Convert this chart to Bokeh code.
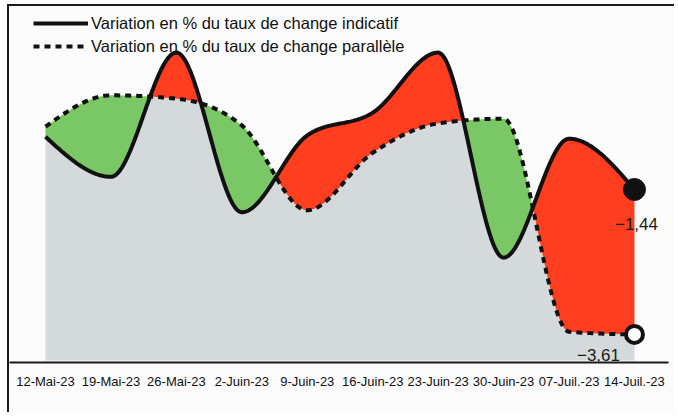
import numpy as np
from bokeh.plotting import figure
from bokeh.models import (ColumnDataSource, FixedTicker, Legend, LegendItem,
                          Label, Range1d)
from bokeh.embed import file_html
from bokeh.resources import INLINE

# ---- data -------------------------------------------------------------
dates = ["12-Mai-23", "19-Mai-23", "26-Mai-23", "2-Juin-23", "9-Juin-23",
         "16-Juin-23", "23-Juin-23", "30-Juin-23", "07-Juil.-23", "14-Juil.-23"]
indicatif = [-0.65, -1.25, 0.61, -1.78, -0.63, -0.29, 0.61, -2.46, -0.68, -1.44]
parallele = [-0.50, -0.03, -0.08, -0.48, -1.75, -0.89, -0.45, -0.38, -3.57, -3.61]
label_solid = "Variation en % du taux de change indicatif"
label_dash = "Variation en % du taux de change parallèle"
baseline = -4.0

FONT = "Liberation Sans"
RED = "#ff3d1f"
GREEN = "#79c865"
GREY = "#d4dadb"
BG = "#fbfbfb"


def monotone(xs, ys, n=60):
    """Monotone cubic (d3 curveMonotoneX style) rendering of a smoothed line."""
    xs = np.asarray(xs, float)
    ys = np.asarray(ys, float)
    h = np.diff(xs)
    s = np.diff(ys) / h
    m = np.zeros(len(xs))
    for i in range(1, len(xs) - 1):
        s0, s1, h0, h1 = s[i - 1], s[i], h[i - 1], h[i]
        p = (s0 * h1 + s1 * h0) / (h0 + h1)
        m[i] = (np.sign(s0) + np.sign(s1)) * min(abs(s0), abs(s1), 0.5 * abs(p))
    m[0] = (3 * s[0] - m[1]) / 2
    m[-1] = (3 * s[-1] - m[-2]) / 2
    ox, oy = [], []
    for i in range(len(xs) - 1):
        t = np.linspace(0, 1, n, endpoint=(i == len(xs) - 2))
        h00 = 2 * t**3 - 3 * t**2 + 1
        h10 = t**3 - 2 * t**2 + t
        h01 = -2 * t**3 + 3 * t**2
        h11 = t**3 - t**2
        ox.append(xs[i] + t * h[i])
        oy.append(h00 * ys[i] + h10 * h[i] * m[i] + h01 * ys[i + 1] + h11 * h[i] * m[i + 1])
    return np.concatenate(ox), np.concatenate(oy)


idx = list(range(len(dates)))
sx, sy = monotone(idx, indicatif)
_, dy = monotone(idx, parallele)
src = ColumnDataSource(dict(x=sx, s=sy, d=dy,
                            hi=np.maximum(sy, dy), lo=np.minimum(sy, dy),
                            base=np.full(len(sx), baseline)))

p = figure(width=667, height=408, output_backend="svg", toolbar_location=None,
           x_range=Range1d(-0.550, 9.520), y_range=Range1d(-4.03, 1.30),
           y_axis_location=None, min_border_left=0, min_border_right=8,
           min_border_top=0, min_border_bottom=52)
p.background_fill_color = BG
p.border_fill_color = BG
p.outline_line_color = None
p.grid.visible = False
p.styles = {"margin-left": "7px", "margin-top": "4px",
            "border-left": "2px solid #1a1a1a", "border-top": "2px solid #1a1a1a"}

# fills
p.varea(x="x", y1="base", y2="lo", source=src, fill_color=GREY)
p.varea(x="x", y1="d", y2="hi", source=src, fill_color=RED)
p.varea(x="x", y1="s", y2="hi", source=src, fill_color=GREEN)

# lines
r_dash = p.line(x="x", y="d", source=src, line_color="#111111", line_width=4,
                line_dash="6 5")
r_solid = p.line(x="x", y="s", source=src, line_color="#111111", line_width=4)

# end markers
last = idx[-1]
p.scatter([last], [indicatif[-1]], size=22, fill_color="#111111", line_color="#111111")
p.scatter([last], [parallele[-1]], size=17, fill_color="white", line_color="#111111",
          line_width=4)


def fmt(v):
    return ("−" if v < 0 else "") + f"{abs(v):.2f}".replace(".", ",")


p.add_layout(Label(x=last, y=indicatif[-1], text=fmt(indicatif[-1]), x_offset=2,
                   y_offset=-34, text_align="center", text_baseline="alphabetic",
                   text_font=FONT, text_font_size="17px", text_color="#1a1a1a"))
p.add_layout(Label(x=last, y=parallele[-1], text=fmt(parallele[-1]), x_offset=-36,
                   y_offset=-21, text_align="center", text_baseline="alphabetic",
                   text_font=FONT, text_font_size="17px", text_color="#1a1a1a"))

# x axis
ax = p.xaxis[0]
ax.ticker = FixedTicker(ticks=idx)
ax.major_label_overrides = {i: d for i, d in zip(idx, dates)}
ax.major_label_text_font = FONT
ax.major_label_text_font_size = "13px"
ax.major_label_text_color = "#111111"
ax.major_label_standoff = 5
ax.major_tick_line_color = None
ax.minor_tick_line_color = None
ax.axis_line_color = "#1a1a1a"
ax.axis_line_width = 2

legend = Legend(items=[LegendItem(label=label_solid, renderers=[r_solid]),
                       LegendItem(label=label_dash, renderers=[r_dash])],
                location=(24, 306), glyph_width=55, glyph_height=20,
                label_height=20, label_standoff=3, padding=0, spacing=3, margin=0,
                background_fill_alpha=0, border_line_color=None,
                label_text_font=FONT, label_text_font_size="16.5px",
                label_text_color="#111111")
p.add_layout(legend)

open("out.html", "w").write(file_html(p, INLINE))
